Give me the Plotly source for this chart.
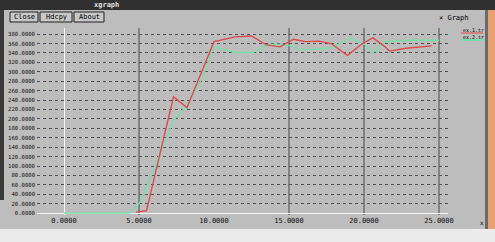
import plotly.graph_objects as go

# ---- data ----
green_x = [0, 4.4, 5.1, 6.3, 7.3, 8.2, 9.2, 10.0, 11.4, 12.6, 13.6, 14.4, 15.2, 15.8, 16.6, 17.8, 19.1, 20.1, 20.6, 21.4, 22.8, 25.0]
green_y = [0, 0, 24, 120, 197, 229, 286, 353, 341, 341, 358, 358, 355, 346, 348, 351, 372, 357, 341, 364, 367, 367]
red_x = [4.8, 5.5, 7.3, 8.2, 10.0, 11.4, 12.5, 13.5, 14.4, 15.3, 16.1, 17.0, 17.8, 18.9, 19.9, 20.6, 21.4, 21.7, 22.8, 24.5]
red_y = [2, 5, 247, 224, 364, 374, 376, 357, 353, 369, 364, 365, 360, 335, 360, 372, 353, 344, 350, 355]
series_names = ["ex.1.tr", "ex.2.tr"]
x_ticks = [0, 5, 10, 15, 20, 25]
y_ticks = list(range(0, 381, 20))
v_grid = [5, 15, 20, 25]

BG = "#bdbdbd"
GREEN = "#74e0a8"
RED = "#e04848"
FONT = "DejaVu Sans Mono"

fig = go.Figure()
fig.add_trace(go.Scatter(x=green_x, y=green_y, mode="lines", name=series_names[1],
                         line=dict(color=GREEN, width=1.3)))
fig.add_trace(go.Scatter(x=red_x, y=red_y, mode="lines", name=series_names[0],
                         line=dict(color=RED, width=1.3)))

W, H = 495, 242
L, R, T, B = 37, 47, 28, 27
def px(x):
    return (x - L) / (W - L - R)
def py(y):
    return (H - B - y) / (H - T - B)

shapes = []
for v in v_grid:
    shapes.append(dict(type="line", xref="x", yref="paper", x0=v, x1=v, y0=0, y1=1,
                       line=dict(color="#4a4a4a", width=1), layer="below"))
# window chrome
shapes.append(dict(type="rect", xref="paper", yref="paper", x0=px(0), x1=px(495), y0=py(10), y1=py(0),
                   fillcolor="#303030", line=dict(width=0), layer="below"))
for (a, b) in [(10, 38), (40, 72), (74, 104)]:
    shapes.append(dict(type="rect", xref="paper", yref="paper", x0=px(a), x1=px(b), y0=py(22), y1=py(12),
                       fillcolor="#c8c8c8", line=dict(color="#202020", width=1)))
# bottom desktop strip
shapes.append(dict(type="rect", xref="paper", yref="paper", x0=px(0), x1=px(495), y0=py(242), y1=py(229),
                   fillcolor="#ececec", line=dict(width=0)))
# right frame
shapes.append(dict(type="rect", xref="paper", yref="paper", x0=px(485), x1=px(488), y0=py(229), y1=py(10),
                   fillcolor="#6a6a6a", line=dict(width=0)))
shapes.append(dict(type="rect", xref="paper", yref="paper", x0=px(488), x1=px(495), y0=py(229), y1=py(10),
                   fillcolor="#e9a070", line=dict(width=0)))
# left frame
shapes.append(dict(type="rect", xref="paper", yref="paper", x0=px(0), x1=px(4), y0=py(200), y1=py(10),
                   fillcolor="#3a3a3a", line=dict(width=0)))
# legend underlines
shapes.append(dict(type="line", xref="paper", yref="paper", x0=px(461), x1=px(483), y0=py(33), y1=py(33),
                   line=dict(color=RED, width=1)))
shapes.append(dict(type="line", xref="paper", yref="paper", x0=px(461), x1=px(483), y0=py(40), y1=py(40),
                   line=dict(color=GREEN, width=2)))

annotations = []
def txt(x, y, s, size=7, color="black", anchor="left"):
    annotations.append(dict(xref="paper", yref="paper", x=px(x), y=py(y), text=s, showarrow=False,
                            xanchor=anchor, yanchor="middle", font=dict(family=FONT, size=size, color=color)))
txt(92, 5, "<b>xgraph</b>", 7, "#e0e0e0")
txt(24, 17, "Close", 7, anchor="center")
txt(56, 17, "Hdcpy", 7, anchor="center")
txt(89, 17, "About", 7, anchor="center")
txt(437, 18, "× Graph", 7)
txt(461, 30, series_names[0], 5)
txt(461, 37, series_names[1], 5)
txt(478, 222, "x", 6)

fig.update_layout(
    width=W, height=H,
    margin=dict(l=L, r=R, t=T, b=B),
    paper_bgcolor=BG, plot_bgcolor=BG,
    showlegend=False,
    shapes=shapes, annotations=annotations,
    xaxis=dict(range=[-1.8, 25.6], tickvals=x_ticks, ticktext=[f"{v:.4f}" for v in x_ticks],
               showgrid=False, zeroline=True, zerolinecolor="#f4f4f4", zerolinewidth=1,
               showline=False, ticks="", automargin=False,
               tickfont=dict(family=FONT, size=7, color="#111")),
    yaxis=dict(range=[-4, 393], tickvals=y_ticks, ticktext=[f"{v:.4f}" for v in y_ticks],
               showgrid=True, gridcolor="#505050", griddash="dot", gridwidth=1,
               zeroline=True, zerolinecolor="#f4f4f4", zerolinewidth=1,
               showline=False, ticks="", ticklabelstandoff=1, automargin=False,
               tickfont=dict(family=FONT, size=5.6, color="#111")),
)
fig.write_html("out.html")
